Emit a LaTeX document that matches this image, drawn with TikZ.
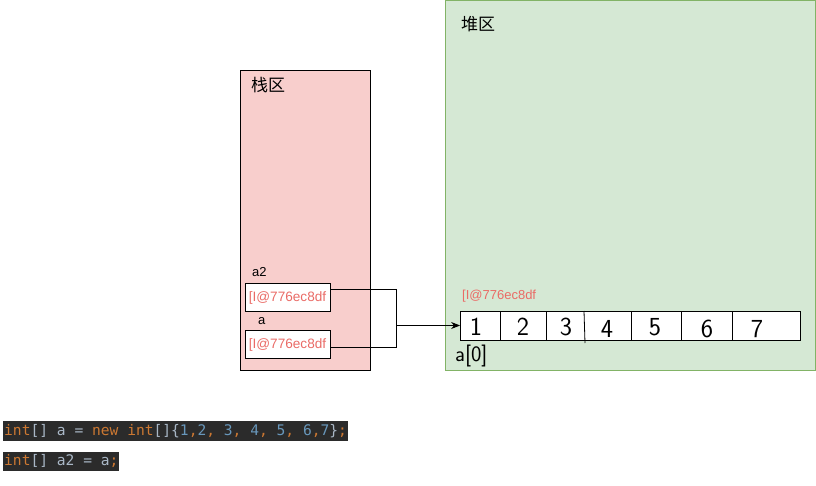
\documentclass[tikz,border=0pt]{standalone}
\usepackage{fontspec}
\setmainfont{Liberation Sans}
\newfontfamily\cjk{Noto Sans CJK SC}
\newfontfamily\codefont{DejaVu Sans Mono}
\usetikzlibrary{arrows.meta}
\definecolor{stackfill}{HTML}{F8CECC}
\definecolor{heapfill}{HTML}{D5E8D4}
\definecolor{heapline}{HTML}{82B366}
\definecolor{refred}{HTML}{EA6B66}
\definecolor{codebg}{HTML}{2B2B2B}
\definecolor{kw}{HTML}{CC7832}
\definecolor{cg}{HTML}{A9B7C6}
\definecolor{num}{HTML}{6897BB}
\begin{document}
\begin{tikzpicture}[x=1pt,y=-1pt,
  refbox/.style={draw=black,fill=white,line width=0.8pt,minimum width=85pt,minimum height=28pt,inner sep=0pt,text=refred,font=\fontsize{13.6}{15}\selectfont},
  varlabel/.style={inner sep=0pt,font=\fontsize{13}{15}\selectfont,anchor=west},
  region/.style={inner sep=0pt,font=\cjk\fontsize{17}{19}\selectfont,anchor=west},
  digit/.style={inner sep=0pt,font=\sffamily\fontsize{26}{28}\selectfont},
  codeline/.style={fill=codebg,inner xsep=1pt,inner ysep=0pt,minimum height=19.5pt,anchor=north west,font=\codefont\fontsize{14.6}{16}\selectfont,text=cg},
  conn/.style={draw=black,line width=0.8pt}]
\useasboundingbox (0,0) rectangle (816,486);
% regions
\draw[fill=stackfill,draw=black,line width=0.8pt] (240.5,70.5) rectangle (370.5,370.5);
\draw[fill=heapfill,draw=heapline,line width=0.8pt] (445.5,0.5) rectangle (815.5,370.5);
\node[region] (stk) at (251,85) {栈区};
\node[region] (hp) at (461,24) {堆区};
% stack boxes
\node[varlabel] (la2) at (252,272) {a2};
\node[refbox] (b2) at (287.5,297.5) {[I@776ec8df};
\node[varlabel] (la) at (258,321) {a};
\node[refbox] (b1) at (287.5,344.5) {[I@776ec8df};
% array
\node[draw=black,fill=white,line width=0.8pt,minimum width=340pt,minimum height=29pt,inner sep=0pt] (arr) at (630.5,325.5) {};
\foreach \x in {500,546,631,681,732} \draw[line width=0.8pt] (\x,311) -- (\x,340);
\draw[line width=0.8pt] (584,311) -- (585,343);
\node[inner sep=0pt,text=refred,font=\fontsize{13}{15}\selectfont,anchor=west] (haddr) at (462,296) {[I@776ec8df};
\node[digit] (d1) at (476,327) {1};
\node[digit] (d2) at (523,327) {2};
\node[digit] (d3) at (566,327) {3};
\node[digit] (d4) at (607,329) {4};
\node[digit] (d5) at (655,327) {5};
\node[digit] (d6) at (707,329) {6};
\node[digit] (d7) at (757,329) {7};
\node[inner sep=0pt,font=\sffamily\fontsize{22}{24}\selectfont,anchor=west] (idx) at (455,356) {a[0]};
% connectors
\coordinate (jn) at (396.5,325.5);
\draw[conn] ([yshift=8pt]b2.east) -| (jn);
\draw[conn] ([yshift=-2.5pt]b1.east) -| (jn);
\draw[conn,-{Stealth[length=9pt,width=7pt]}] (jn) -- (arr.west);
% code
\node[codeline] (c1) at (3,421) {\textcolor{kw}{int}[] a = \textcolor{kw}{new int}[]\{\textcolor{num}{1}\textcolor{kw}{,}\textcolor{num}{2}\textcolor{kw}{,} \textcolor{num}{3}\textcolor{kw}{,} \textcolor{num}{4}\textcolor{kw}{,} \textcolor{num}{5}\textcolor{kw}{,} \textcolor{num}{6}\textcolor{kw}{,}\textcolor{num}{7}\}\textcolor{kw}{;}};
\node[codeline] (c2) at (3,451.5) {\textcolor{kw}{int}[] a2 = a\textcolor{kw}{;}};
\end{tikzpicture}
\end{document}
